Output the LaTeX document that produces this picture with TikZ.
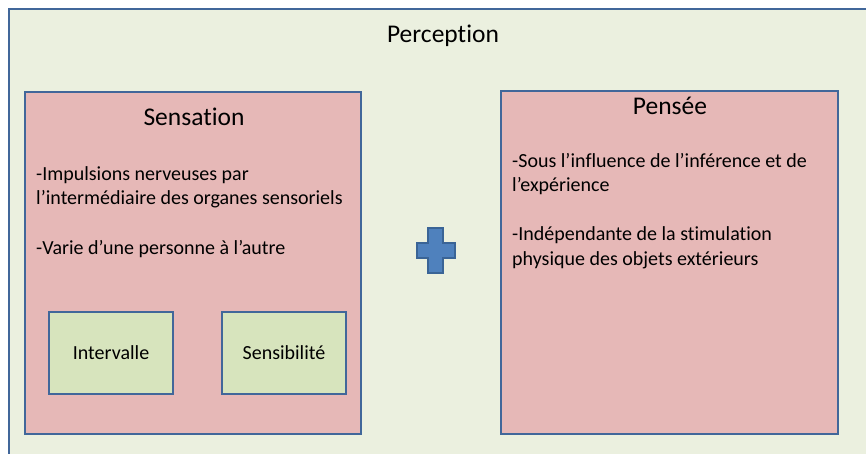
\documentclass[tikz,border=0pt]{standalone}
\usepackage{fontspec}
\setmainfont{Carlito}[Ligatures=NoCommon]
\definecolor{bord}{HTML}{41679A}
\definecolor{outerfill}{HTML}{EBF0DF}
\definecolor{pinkfill}{HTML}{E6B8B7}
\definecolor{greenfill}{HTML}{D7E4BD}
\definecolor{plusfill}{HTML}{4F81BD}
\definecolor{plusbord}{HTML}{3A6496}
\tikzset{
  bigbox/.style={draw=bord, line width=2.5pt, fill=pinkfill},
  smallbox/.style={draw=bord, line width=2.5pt, fill=greenfill},
  titletext/.style={font=\fontsize{25.5}{30}\selectfont, inner sep=0pt},
  bodytext/.style={font=\fontsize{20}{24.5}\selectfont, inner sep=0pt, align=left, anchor=base west},
}
\begin{document}
\begin{tikzpicture}[x=1pt,y=-1pt]
\useasboundingbox (0,0) rectangle (866,454);
\clip (0,0) rectangle (866,454);
\fill[white] (0,0) rectangle (866,454);
\draw[draw=bord, line width=2.5pt, fill=outerfill] (9,9) rectangle (890,480);
\node[titletext, anchor=base] (perc) at (443,43) {Perception};
% Sensation
\draw[bigbox] (25,92) rectangle (361,434);
\node[titletext, anchor=base] (sens) at (194,126) {Sensation};
\node[bodytext] (s1) at (36,205) {-Impulsions nerveuses par\\l’intermédiaire des organes sensoriels};
\node[bodytext] (s2) at (36,254) {-Varie d’une personne à l’autre};
\node[smallbox, minimum width=124pt, minimum height=82pt, font=\fontsize{20}{24}\selectfont] (int) at (111,353) {Intervalle};
\node[smallbox, minimum width=124pt, minimum height=82pt, font=\fontsize{20}{24}\selectfont] (sensi) at (284,353) {Sensibilité};
% Pensee
\draw[bigbox] (501,91) rectangle (838,434);
\node[titletext, anchor=base] (pens) at (670,115) {Pensée};
\node[bodytext] (p1) at (512,192) {-Sous l’influence de l’inférence et de\\l’expérience};
\node[bodytext] (p2) at (512,265) {-Indépendante de la stimulation\\physique des objets extérieurs};
% plus
\draw[fill=plusfill, draw=plusbord, line width=2pt]
  (428,228) -- (443,228) -- (443,243) -- (455,243) -- (455,258) -- (443,258) -- (443,273)
  -- (428,273) -- (428,258) -- (417,258) -- (417,243) -- (428,243) -- cycle;
\end{tikzpicture}
\end{document}
